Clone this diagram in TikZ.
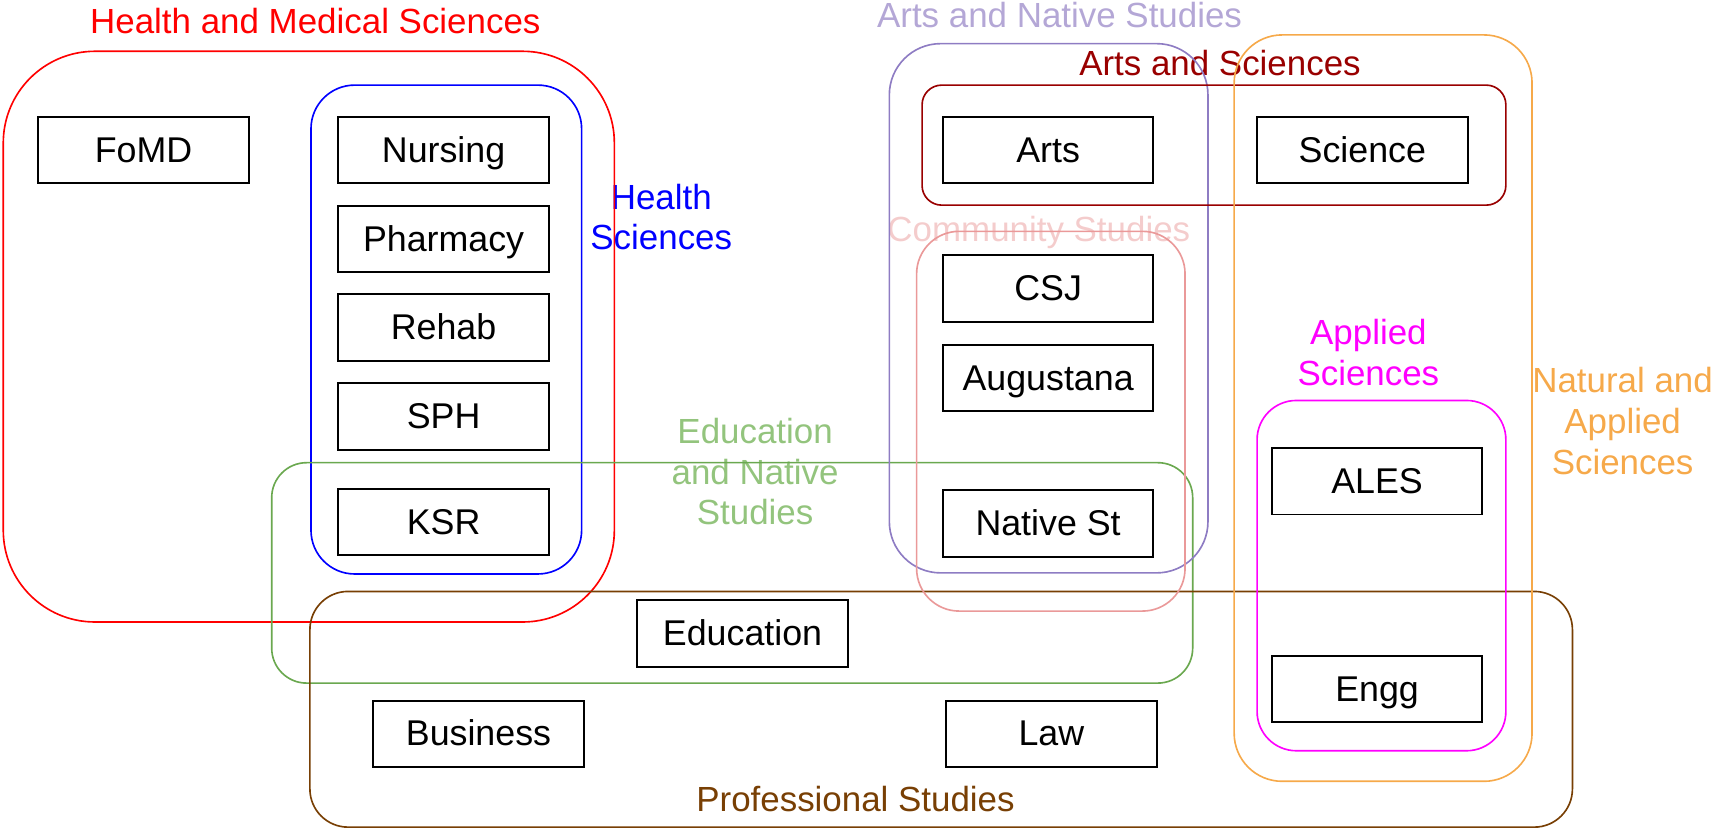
\documentclass[tikz,border=0pt]{standalone}
\usepackage{fontspec}
\setmainfont{Liberation Sans}
\definecolor{cRed}{HTML}{FF0000}
\definecolor{cBlue}{HTML}{0000FF}
\definecolor{cGreenBox}{HTML}{6AA84F}
\definecolor{cGreenTxt}{HTML}{93C47D}
\definecolor{cBrown}{HTML}{783F04}
\definecolor{cPurpleBox}{HTML}{8E7CC3}
\definecolor{cPurpleTxt}{HTML}{B4A7D6}
\definecolor{cDarkRed}{HTML}{990000}
\definecolor{cPinkBox}{HTML}{EA9999}
\definecolor{cPinkTxt}{HTML}{F4CCCC}
\definecolor{cOrange}{HTML}{F6A94A}
\definecolor{cMagenta}{HTML}{FF00FF}
\begin{document}
\begin{tikzpicture}[x=0.5pt,y=-0.5pt,
  font=\fontsize{16}{18.75}\selectfont,
  unitbox/.style={draw=black, line width=0.9pt, minimum width=96.5pt, minimum height=30.5pt,
    inner sep=0pt, text height=14.5pt, text depth=3.4pt, font=\fontsize{16.4}{18.75}\selectfont},
  grp/.style={draw, line width=0.75pt, inner sep=0pt},
  lbl/.style={inner sep=0pt, align=center, text height=14.5pt, text depth=3.4pt}]
\useasboundingbox (0,0) rectangle (1568,760);

% labels (multi-line: node y is the last line)
\node[lbl, text=cRed] (tHMS) at (289,20) {Health and Medical Sciences};
\node[lbl, text=cBlue] (tHS) at (606,218) {Health\\Sciences};
\node[lbl, text=cGreenTxt] (tENS) at (692,470) {Education\\and Native\\Studies};
\node[lbl, text=cBrown] (tPS) at (784,733) {Professional Studies};
\node[lbl, text=cPurpleTxt] (tANS) at (971,14) {Arts and Native Studies};
\node[lbl, text=cDarkRed] (tAS) at (1118,58) {Arts and Sciences};
\node[lbl, text=cPinkTxt] (tCS) at (952,210) {Community Studies};
\node[lbl, text=cOrange] (tNAS) at (1487,424) {Natural and\\Applied\\Sciences};
\node[lbl, text=cMagenta] (tApS) at (1254,342) {Applied\\Sciences};

% group boxes
\node[grp, draw=cRed, minimum width=280pt, minimum height=261.5pt, rounded corners=42pt] (gHMS) at (283,308.5) {};
\node[grp, draw=cBlue, minimum width=124pt, minimum height=224pt, rounded corners=20pt] (gHS) at (409,302) {};
\node[grp, draw=cGreenBox, minimum width=422pt, minimum height=101pt, rounded corners=16pt] (gENS) at (671,525) {};
\node[grp, draw=cBrown, minimum width=578.5pt, minimum height=108pt, rounded corners=17.5pt] (gPS) at (862.5,650) {};
\node[grp, draw=cPurpleBox, minimum width=146pt, minimum height=242.5pt, rounded corners=23.5pt] (gANS) at (961,282.5) {};
\node[grp, draw=cDarkRed, minimum width=267.5pt, minimum height=55pt, rounded corners=9pt] (gAS) at (1112.5,133) {};
\node[grp, draw=cPinkBox, minimum width=123pt, minimum height=174pt, rounded corners=19.5pt] (gCS) at (963,386) {};
\node[grp, draw=cOrange, minimum width=136.5pt, minimum height=342pt, rounded corners=22pt] (gNAS) at (1267.5,374) {};
\node[grp, draw=cMagenta, minimum width=114pt, minimum height=160.5pt, rounded corners=18pt] (gApS) at (1266,527.5) {};

% units
\node[unitbox] (FoMD) at (131.5,137.5) {FoMD};
\node[unitbox] (Nursing) at (406.5,137.5) {Nursing};
\node[unitbox] (Pharmacy) at (406.5,219) {Pharmacy};
\node[unitbox] (Rehab) at (406.5,300) {Rehab};
\node[unitbox] (SPH) at (406.5,381.5) {SPH};
\node[unitbox] (KSR) at (406.5,478.5) {KSR};
\node[unitbox] (Education) at (680.5,580.5) {Education};
\node[unitbox] (Business) at (438.5,672.5) {Business};
\node[unitbox] (Law) at (963.5,672.5) {Law};
\node[unitbox] (Arts) at (960.5,137.5) {Arts};
\node[unitbox] (Science) at (1248.5,137.5) {Science};
\node[unitbox] (CSJ) at (960.5,264.5) {CSJ};
\node[unitbox] (Augustana) at (960.5,346.5) {Augustana};
\node[unitbox] (NativeSt) at (960.5,479.5) {Native St};
\node[unitbox] (ALES) at (1262,441) {ALES};
\node[unitbox] (Engg) at (1262,631.5) {Engg};
\end{tikzpicture}
\end{document}
